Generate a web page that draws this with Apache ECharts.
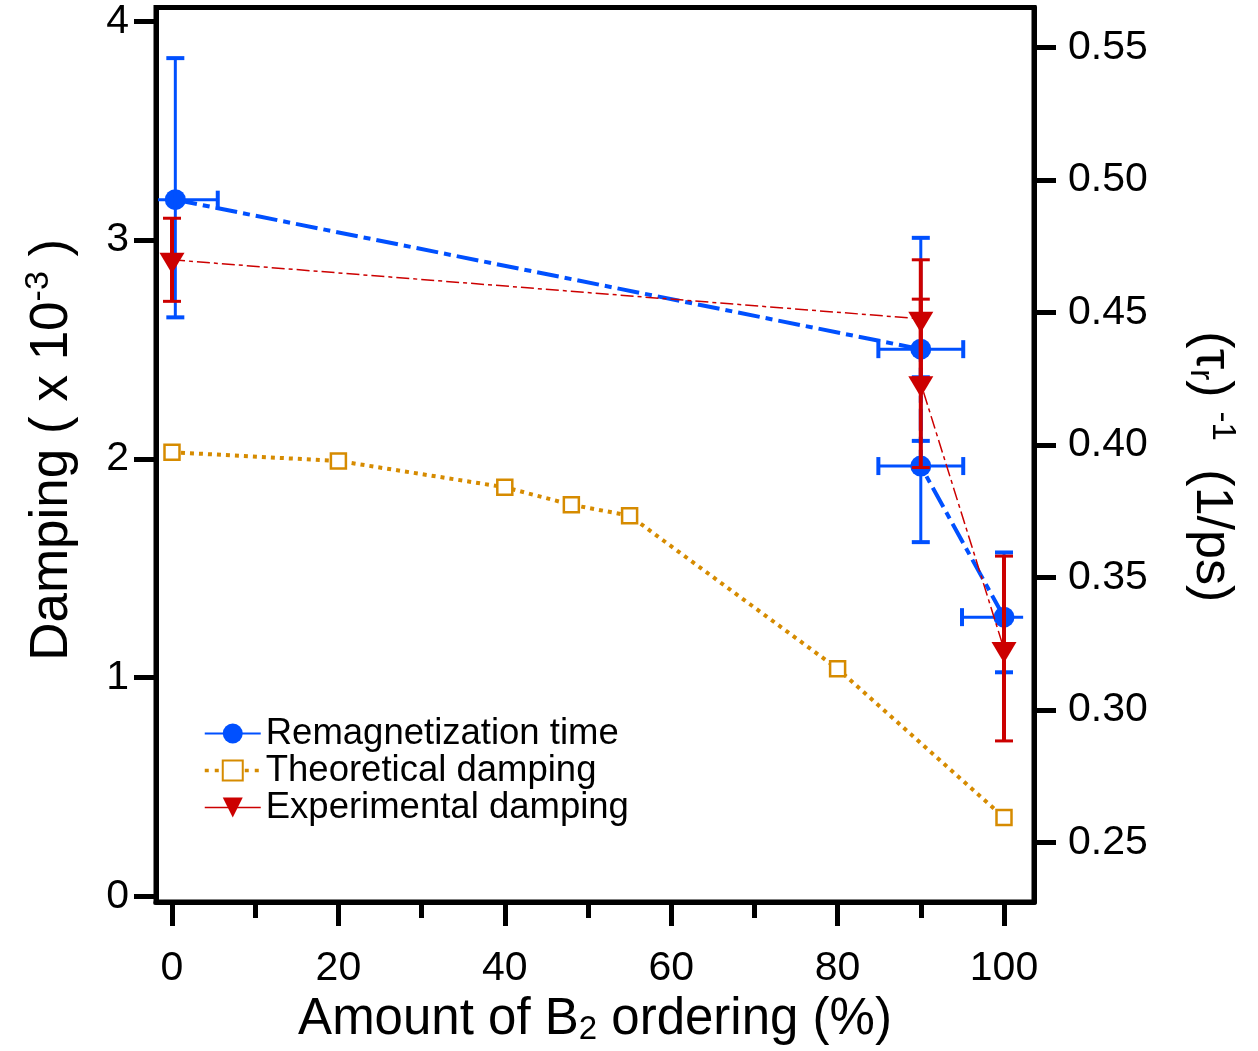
<!DOCTYPE html>
<html><head><meta charset="utf-8">
<script src="https://cdn.jsdelivr.net/npm/echarts@6/dist/echarts.min.js"></script>
<style>html,body{margin:0;padding:0;background:#fff}#c{width:1258px;height:1051px}</style>
</head><body><div id="c"></div>
<script>
// ---- data ----
const xTicks = [0, 20, 40, 60, 80, 100];
const xMinorTicks = [10, 30, 50, 70, 90];
const leftTicks = [0, 1, 2, 3, 4];
const rightTicks = [0.25, 0.30, 0.35, 0.40, 0.45, 0.50, 0.55];

const theoryX = [0, 20, 40, 48, 55, 80, 100];
const theoryY = [2.03, 1.99, 1.87, 1.79, 1.74, 1.04, 0.36];

const expX = [0, 90, 90, 100];
const expY = [2.91, 2.64, 2.345, 1.13];
const expLow = [2.72, 2.37, 1.96, 0.71];
const expHigh = [3.10, 2.91, 2.73, 1.555];

const remagX = [0.4, 90, 90, 100];
const remagY = [0.4925, 0.4361, 0.392, 0.335];
const remagLow = [0.4481, 0.4015, 0.3633, 0.3142];
const remagHigh = [0.5459, 0.4781, 0.4255, 0.3594];
const remagXLow = [-4.7, 84.9, 84.9, 94.95];
const remagXHigh = [5.5, 95.1, 95.1, 102.3];
const remagXHighCap = [1, 1, 1, 0];

// ---- style ----
const BLUE = '#0050ff', RED = '#cc0000', ORANGE = '#d68b00';
const FONT = '"Liberation Sans", Arial, Helvetica, sans-serif';

function errRender(color, barW, capHalf, capW) {
  return function (params, api) {
    const cs = params.coordSys;
    const x = api.value(0), y = api.value(1);
    const lo = api.value(2), hi = api.value(3);
    const p = api.coord([x, y]);
    const pLo = api.coord([x, lo]), pHi = api.coord([x, hi]);
    const ls = { stroke: color, lineWidth: barW, fill: null };
    const cl = { stroke: color, lineWidth: capW, fill: null };
    const ch = [];
    ch.push({ type: 'line', shape: { x1: p[0], y1: pLo[1], x2: p[0], y2: pHi[1] }, style: ls });
    ch.push({ type: 'line', shape: { x1: p[0] - capHalf, y1: pLo[1], x2: p[0] + capHalf, y2: pLo[1] }, style: cl });
    ch.push({ type: 'line', shape: { x1: p[0] - capHalf, y1: pHi[1], x2: p[0] + capHalf, y2: pHi[1] }, style: cl });
    const xl = api.value(4), xh = api.value(5), capR = api.value(6);
    if (!isNaN(xl) && !isNaN(xh)) {
      let a = api.coord([xl, y])[0], b = api.coord([xh, y])[0];
      const left = cs.x, right = cs.x + cs.width;
      const aIn = a >= left, bIn = b <= right;
      a = Math.max(a, left + 2); b = Math.min(b, right - 2);
      ch.push({ type: 'line', shape: { x1: a, y1: p[1], x2: b, y2: p[1] }, style: ls });
      if (aIn) ch.push({ type: 'line', shape: { x1: a, y1: p[1] - capHalf, x2: a, y2: p[1] + capHalf }, style: cl });
      if (bIn && capR) ch.push({ type: 'line', shape: { x1: b, y1: p[1] - capHalf, x2: b, y2: p[1] + capHalf }, style: cl });
    }
    return { type: 'group', children: ch };
  };
}

const theoryData = theoryX.map((x, i) => [x, theoryY[i]]);
const expData = expX.map((x, i) => [x, expY[i]]);
const expErr = expX.map((x, i) => [x, expY[i], expLow[i], expHigh[i]]);
const remagData = remagX.map((x, i) => [x, remagY[i]]);
const remagErr = remagX.map((x, i) => [x, remagY[i], remagLow[i], remagHigh[i], remagXLow[i], remagXHigh[i], remagXHighCap[i]]);

const TRI = 'path://M0,0 L25,0 L12.5,21 Z';
const axisTextBase = { color: '#000', fontFamily: FONT };

const option = {
  animation: false,
  backgroundColor: '#fff',
  textStyle: { fontFamily: FONT },
  grid: { left: 156, top: 7.5, right: 224, bottom: 142, show: true, borderColor: '#000', borderWidth: 5, containLabel: false },
  legend: {
    orient: 'vertical', left: 198, top: 710,
    itemWidth: 56, itemHeight: 25, itemGap: 0,
    textStyle: { fontSize: 36.5, color: '#000', fontFamily: FONT, lineHeight: 36.5, padding: [0, 0, 0, 0] },
    data: [
      { name: 'Remagnetization time', lineStyle: { type: 'solid', width: 2 } },
      { name: 'Theoretical damping', lineStyle: { type: [4, 6], width: 3.5 } },
      { name: 'Experimental damping', lineStyle: { type: 'solid', width: 1.5 } }
    ]
  },
  xAxis: [
    {
      type: 'value', min: -1.923, max: 103.606, position: 'bottom',
      axisLine: { show: true, onZero: false, lineStyle: { color: '#000', width: 5 } },
      axisTick: { show: true, inside: false, length: 24, lineStyle: { color: '#000', width: 5 }, customValues: xTicks },
      axisLabel: { ...axisTextBase, fontSize: 41, margin: 46, customValues: xTicks },
      splitLine: { show: false },
      name: 'Amount of B{sub|2} ordering (%)', nameLocation: 'middle', nameGap: 89,
      nameTextStyle: { ...axisTextBase, fontSize: 51, rich: { sub: { fontSize: 33, verticalAlign: 'bottom', padding: [20, 0, 0, 0], fontFamily: FONT } } }
    },
    {
      type: 'value', min: -1.923, max: 103.606, position: 'bottom',
      axisLine: { show: false, onZero: false },
      axisTick: { show: true, inside: false, length: 16, lineStyle: { color: '#000', width: 5 }, customValues: xMinorTicks },
      axisLabel: { show: false },
      splitLine: { show: false }
    }
  ],
  yAxis: [
    {
      type: 'value', min: -0.027, max: 4.0636, position: 'left',
      axisLine: { show: true, onZero: false, lineStyle: { color: '#000', width: 5 } },
      axisTick: { show: true, inside: false, length: 22, lineStyle: { color: '#000', width: 5 }, customValues: leftTicks },
      axisLabel: { ...axisTextBase, fontSize: 41, margin: 27, customValues: leftTicks },
      splitLine: { show: false },
      name: 'Damping ( x 10{sup|-3} )', nameLocation: 'middle', nameGap: 74, nameRotate: 90,
      nameTextStyle: { ...axisTextBase, fontSize: 53, padding: [0, 0, 0, 10],
        rich: { sup: { fontSize: 34, verticalAlign: 'top', padding: [0, 0, 26, 0], fontFamily: FONT } } }
    },
    {
      type: 'value', min: 0.2275, max: 0.565, position: 'right',
      axisLine: { show: true, onZero: false, lineStyle: { color: '#000', width: 5 } },
      axisTick: { show: true, inside: false, length: 22, lineStyle: { color: '#000', width: 5 }, customValues: rightTicks },
      axisLabel: { ...axisTextBase, fontSize: 41, margin: 34, customValues: rightTicks, formatter: v => v.toFixed(2) },
      splitLine: { show: false },
      name: '(τ{sub|r}){sup|-1} (1/ps)', nameLocation: 'middle', nameGap: 150, nameRotate: -90,
      nameTextStyle: { ...axisTextBase, fontSize: 52, padding: [0, 0, 0, 24],
        rich: {
          sub: { fontSize: 33, verticalAlign: 'bottom', padding: [18, 0, 0, 0], fontFamily: FONT },
          sup: { fontSize: 33, verticalAlign: 'top', padding: [0, 14, 22, 14], fontFamily: FONT }
        } }
    }
  ],
  series: [
    {
      name: 'Theoretical damping', type: 'line', xAxisIndex: 0, yAxisIndex: 0, data: theoryData,
      symbol: 'rect', symbolSize: 15, showAllSymbol: true,
      lineStyle: { color: ORANGE, width: 4, type: [4, 5] },
      itemStyle: { color: '#fff', borderColor: ORANGE, borderWidth: 2.5 },
      z: 2
    },
    {
      name: 'Remagnetization time', type: 'line', xAxisIndex: 0, yAxisIndex: 1, data: remagData,
      symbol: 'circle', symbolSize: 21,
      lineStyle: { color: BLUE, width: 4, type: [22, 6, 7, 6] },
      itemStyle: { color: BLUE, borderWidth: 0 },
      z: 3
    },
    {
      name: 'Remagnetization time', type: 'custom', xAxisIndex: 0, yAxisIndex: 1, data: remagErr,
      encode: { x: 0, y: 1 }, renderItem: errRender(BLUE, 3, 9, 4), z: 4, silent: true
    },
    {
      name: 'Experimental damping', type: 'line', xAxisIndex: 0, yAxisIndex: 0, data: expData,
      symbol: TRI, symbolSize: [25, 21], symbolOffset: [0, 3.5],
      lineStyle: { color: RED, width: 1.5, type: [13, 4, 4, 4] },
      itemStyle: { color: RED, borderWidth: 0 },
      z: 5
    },
    {
      name: 'Experimental damping', type: 'custom', xAxisIndex: 0, yAxisIndex: 0, data: expErr,
      encode: { x: 0, y: 1 }, renderItem: errRender(RED, 4, 9, 3), z: 6, silent: true
    }
  ]
};

const chart = echarts.init(document.getElementById('c'), null, { renderer: 'canvas' });
chart.setOption(option);
</script>
</body></html>
